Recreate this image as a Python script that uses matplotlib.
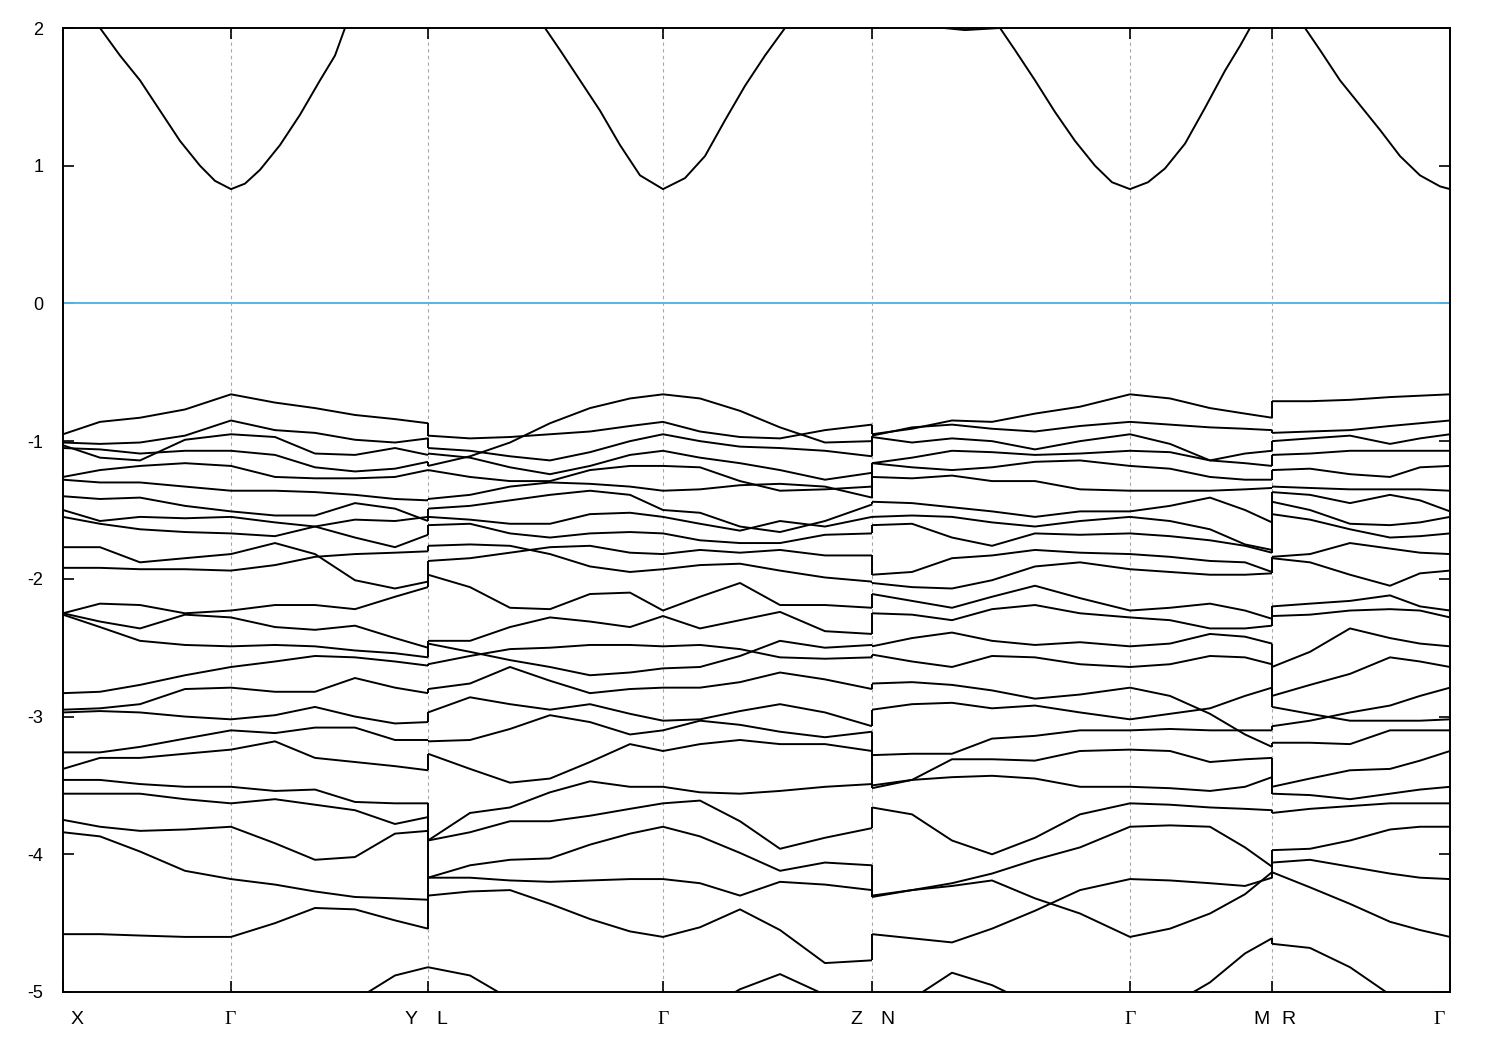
import matplotlib
matplotlib.use("Agg")
import matplotlib.pyplot as plt

plt.rcParams['axes.unicode_minus'] = False
plt.rcParams['font.family'] = ['Liberation Sans', 'DejaVu Sans']

# high-symmetry points along the k-path
kpts = [0.0, 0.168, 0.365, 0.600, 0.809, 1.067, 1.209, 1.387]

# tick labels: (text, k position, horizontal shift in points)
klabels = [('X', 0.0, 10.4), ('Γ', 0.168, -1), ('Y', 0.365, -11.9), ('L', 0.365, 9.9),
           ('Γ', 0.600, 0), ('Z', 0.809, -11.5), ('N', 0.809, 11.2), ('Γ', 1.067, 0),
           ('M', 1.209, -7.9), ('R', 1.209, 11.5), ('Γ', 1.387, -7.9)]

# conduction band
cond_k = [0.0, 0.037, 0.057, 0.077, 0.097, 0.117, 0.137, 0.152, 0.168, 0.182, 0.197, 0.217,
          0.237, 0.257, 0.272, 0.282, 0.317, 0.365,
          0.437, 0.482, 0.497, 0.517, 0.537, 0.557, 0.577, 0.600, 0.622, 0.642, 0.662, 0.682,
          0.702, 0.722, 0.767, 0.809,
          0.867, 0.902, 0.937, 0.952, 0.972, 0.992, 1.012, 1.032, 1.049, 1.067, 1.085, 1.102,
          1.122, 1.142, 1.162, 1.177, 1.187, 1.209,
          1.242, 1.257, 1.277, 1.297, 1.317, 1.337, 1.357, 1.377, 1.387]
cond_e = [2.3, 2.0, 1.80, 1.62, 1.40, 1.18, 1.0, 0.89, 0.83, 0.87, 0.97, 1.15,
          1.37, 1.62, 1.80, 2.0, 2.45, 2.7,
          2.45, 2.0, 1.84, 1.62, 1.40, 1.15, 0.93, 0.83, 0.91, 1.07, 1.33, 1.58,
          1.80, 2.0, 2.4, 2.5,
          2.01, 1.985, 2.0, 1.84, 1.62, 1.39, 1.18, 1.0, 0.88, 0.83, 0.88, 0.98,
          1.16, 1.42, 1.69, 1.87, 2.0, 2.25,
          2.0, 1.84, 1.62, 1.44, 1.26, 1.07, 0.93, 0.85, 0.83]

# valence bands, X - Gamma - Y
p1_k = [0.0, 0.037, 0.077, 0.122, 0.168, 0.212, 0.252, 0.292, 0.332, 0.365]
p1_e = [
    [-0.95, -0.86, -0.83, -0.77, -0.66, -0.72, -0.76, -0.81, -0.84, -0.87],
    [-1.01, -1.02, -1.01, -0.96, -0.85, -0.92, -0.94, -0.99, -1.01, -0.98],
    [-1.03, -1.12, -1.14, -0.99, -0.95, -0.97, -1.09, -1.10, -1.05, -1.10],
    [-1.05, -1.06, -1.09, -1.07, -1.07, -1.10, -1.19, -1.22, -1.20, -1.15],
    [-1.26, -1.21, -1.18, -1.16, -1.18, -1.26, -1.27, -1.27, -1.26, -1.21],
    [-1.28, -1.30, -1.30, -1.33, -1.36, -1.36, -1.37, -1.39, -1.42, -1.43],
    [-1.40, -1.42, -1.41, -1.47, -1.51, -1.54, -1.54, -1.45, -1.49, -1.58],
    [-1.50, -1.58, -1.55, -1.56, -1.55, -1.59, -1.62, -1.70, -1.77, -1.68],
    [-1.55, -1.60, -1.64, -1.66, -1.67, -1.69, -1.62, -1.57, -1.58, -1.55],
    [-1.77, -1.77, -1.88, -1.85, -1.82, -1.74, -1.82, -2.01, -2.07, -2.02],
    [-1.92, -1.92, -1.93, -1.93, -1.94, -1.90, -1.84, -1.82, -1.81, -1.80],
    [-2.25, -2.18, -2.19, -2.25, -2.23, -2.19, -2.19, -2.22, -2.13, -2.06],
    [-2.25, -2.31, -2.36, -2.26, -2.28, -2.35, -2.37, -2.34, -2.43, -2.50],
    [-2.26, -2.35, -2.45, -2.48, -2.49, -2.48, -2.49, -2.52, -2.54, -2.57],
    [-2.83, -2.82, -2.77, -2.70, -2.64, -2.60, -2.56, -2.57, -2.60, -2.63],
    [-2.95, -2.94, -2.91, -2.80, -2.79, -2.82, -2.82, -2.72, -2.79, -2.83],
    [-2.97, -2.96, -2.97, -3.00, -3.02, -2.99, -2.93, -3.00, -3.05, -3.04],
    [-3.26, -3.26, -3.22, -3.16, -3.10, -3.12, -3.08, -3.08, -3.17, -3.17],
    [-3.38, -3.30, -3.30, -3.27, -3.24, -3.18, -3.30, -3.33, -3.36, -3.39],
    [-3.46, -3.46, -3.49, -3.51, -3.51, -3.54, -3.53, -3.62, -3.63, -3.63],
    [-3.56, -3.56, -3.56, -3.60, -3.63, -3.60, -3.64, -3.68, -3.78, -3.73],
    [-3.75, -3.80, -3.83, -3.82, -3.80, -3.92, -4.04, -4.02, -3.85, -3.83],
    [-3.84, -3.87, -3.98, -4.12, -4.18, -4.22, -4.27, -4.31, -4.32, -4.33],
    [-4.58, -4.58, -4.59, -4.60, -4.60, -4.50, -4.39, -4.40, -4.48, -4.54],
    [-5.60, -5.55, -5.50, -5.45, -5.40, -5.30, -5.18, -5.06, -4.88, -4.82],
]

# L - Gamma - Z
p2_k = [0.365, 0.407, 0.447, 0.487, 0.527, 0.567, 0.600, 0.637, 0.677, 0.717, 0.762, 0.809]
p2_e = [
    [-1.18, -1.11, -1.01, -0.87, -0.76, -0.69, -0.66, -0.69, -0.78, -0.90, -1.01, -1.00],
    [-0.96, -0.98, -0.97, -0.95, -0.93, -0.89, -0.86, -0.93, -0.97, -0.98, -0.92, -0.88],
    [-1.05, -1.07, -1.11, -1.14, -1.08, -1.00, -0.95, -1.00, -1.04, -1.05, -1.07, -1.11],
    [-1.09, -1.12, -1.19, -1.24, -1.18, -1.10, -1.07, -1.12, -1.16, -1.21, -1.28, -1.23],
    [-1.21, -1.26, -1.29, -1.29, -1.21, -1.18, -1.18, -1.19, -1.29, -1.36, -1.35, -1.33],
    [-1.42, -1.39, -1.33, -1.30, -1.31, -1.33, -1.36, -1.35, -1.32, -1.31, -1.33, -1.41],
    [-1.49, -1.47, -1.43, -1.39, -1.36, -1.39, -1.50, -1.52, -1.62, -1.66, -1.58, -1.46],
    [-1.55, -1.57, -1.60, -1.60, -1.53, -1.52, -1.55, -1.60, -1.65, -1.58, -1.62, -1.55],
    [-1.61, -1.60, -1.67, -1.70, -1.67, -1.66, -1.67, -1.72, -1.74, -1.74, -1.68, -1.67],
    [-1.76, -1.75, -1.76, -1.82, -1.91, -1.95, -1.93, -1.90, -1.89, -1.94, -1.99, -2.02],
    [-1.87, -1.85, -1.81, -1.77, -1.76, -1.81, -1.82, -1.79, -1.81, -1.79, -1.83, -1.83],
    [-1.97, -2.06, -2.21, -2.22, -2.11, -2.10, -2.23, -2.13, -2.03, -2.19, -2.19, -2.21],
    [-2.45, -2.45, -2.35, -2.28, -2.31, -2.35, -2.27, -2.36, -2.30, -2.24, -2.38, -2.40],
    [-2.47, -2.53, -2.59, -2.64, -2.70, -2.68, -2.65, -2.64, -2.56, -2.45, -2.50, -2.48],
    [-2.62, -2.56, -2.51, -2.50, -2.48, -2.48, -2.49, -2.48, -2.51, -2.57, -2.58, -2.57],
    [-2.80, -2.76, -2.64, -2.74, -2.83, -2.80, -2.79, -2.79, -2.75, -2.68, -2.73, -2.80],
    [-2.97, -2.86, -2.91, -2.95, -2.91, -2.98, -3.03, -3.02, -2.96, -2.91, -2.97, -3.07],
    [-3.18, -3.17, -3.09, -2.99, -3.04, -3.13, -3.10, -3.03, -3.06, -3.11, -3.15, -3.11],
    [-3.27, -3.38, -3.48, -3.45, -3.33, -3.20, -3.25, -3.20, -3.17, -3.20, -3.20, -3.25],
    [-3.90, -3.70, -3.66, -3.55, -3.47, -3.51, -3.51, -3.55, -3.56, -3.54, -3.51, -3.49],
    [-3.90, -3.84, -3.76, -3.76, -3.72, -3.67, -3.63, -3.61, -3.76, -3.96, -3.88, -3.81],
    [-4.17, -4.08, -4.04, -4.03, -3.93, -3.85, -3.80, -3.87, -3.99, -4.12, -4.06, -4.08],
    [-4.17, -4.17, -4.19, -4.20, -4.19, -4.18, -4.18, -4.21, -4.30, -4.20, -4.22, -4.26],
    [-4.30, -4.27, -4.26, -4.36, -4.47, -4.56, -4.60, -4.53, -4.40, -4.55, -4.79, -4.77],
    [-4.82, -4.88, -5.05, -5.20, -5.30, -5.30, -5.25, -5.15, -4.98, -4.87, -5.02, -5.30],
]

# N - Gamma - M
p3_k = [0.809, 0.849, 0.889, 0.929, 0.972, 1.017, 1.067, 1.107, 1.147, 1.182, 1.209]
p3_e = [
    [-0.95, -0.91, -0.85, -0.86, -0.80, -0.75, -0.66, -0.69, -0.76, -0.80, -0.83],
    [-0.96, -0.90, -0.88, -0.91, -0.93, -0.89, -0.86, -0.88, -0.90, -0.91, -0.92],
    [-0.97, -1.01, -0.98, -1.00, -1.06, -1.00, -0.95, -1.02, -1.14, -1.09, -1.07],
    [-1.16, -1.12, -1.07, -1.08, -1.10, -1.09, -1.07, -1.08, -1.14, -1.16, -1.18],
    [-1.16, -1.19, -1.21, -1.19, -1.15, -1.14, -1.18, -1.20, -1.26, -1.28, -1.28],
    [-1.26, -1.27, -1.25, -1.29, -1.29, -1.35, -1.36, -1.36, -1.36, -1.35, -1.34],
    [-1.44, -1.45, -1.48, -1.51, -1.55, -1.51, -1.51, -1.47, -1.41, -1.50, -1.59],
    [-1.55, -1.54, -1.55, -1.59, -1.62, -1.58, -1.55, -1.58, -1.64, -1.75, -1.79],
    [-1.61, -1.60, -1.70, -1.76, -1.67, -1.68, -1.67, -1.69, -1.72, -1.76, -1.81],
    [-1.97, -1.95, -1.85, -1.83, -1.79, -1.81, -1.82, -1.84, -1.87, -1.88, -1.95],
    [-2.03, -2.06, -2.07, -2.01, -1.91, -1.88, -1.93, -1.95, -1.97, -1.97, -1.96],
    [-2.11, -2.16, -2.21, -2.13, -2.05, -2.14, -2.23, -2.21, -2.18, -2.23, -2.29],
    [-2.25, -2.26, -2.30, -2.22, -2.19, -2.25, -2.28, -2.30, -2.36, -2.36, -2.34],
    [-2.49, -2.43, -2.39, -2.45, -2.48, -2.46, -2.49, -2.47, -2.40, -2.42, -2.47],
    [-2.55, -2.60, -2.64, -2.56, -2.57, -2.62, -2.64, -2.62, -2.56, -2.57, -2.62],
    [-2.76, -2.75, -2.77, -2.81, -2.87, -2.84, -2.79, -2.85, -2.98, -3.13, -3.22],
    [-2.95, -2.91, -2.90, -2.94, -2.92, -2.97, -3.02, -2.98, -2.94, -2.85, -2.79],
    [-3.28, -3.27, -3.27, -3.16, -3.14, -3.10, -3.10, -3.09, -3.10, -3.10, -3.10],
    [-3.52, -3.46, -3.31, -3.31, -3.32, -3.25, -3.24, -3.25, -3.33, -3.31, -3.30],
    [-3.50, -3.46, -3.44, -3.43, -3.45, -3.51, -3.51, -3.52, -3.54, -3.51, -3.44],
    [-3.66, -3.71, -3.90, -4.00, -3.88, -3.71, -3.63, -3.64, -3.66, -3.67, -3.68],
    [-4.31, -4.26, -4.21, -4.14, -4.04, -3.95, -3.80, -3.79, -3.80, -3.95, -4.09],
    [-4.30, -4.26, -4.23, -4.19, -4.32, -4.43, -4.60, -4.54, -4.43, -4.29, -4.13],
    [-4.58, -4.61, -4.64, -4.54, -4.41, -4.26, -4.18, -4.19, -4.21, -4.23, -4.17],
    [-5.30, -5.05, -4.86, -4.95, -5.10, -5.20, -5.30, -5.10, -4.93, -4.72, -4.61],
]

# R - Gamma
p4_k = [1.209, 1.247, 1.287, 1.327, 1.357, 1.387]
p4_e = [
    [-0.71, -0.71, -0.70, -0.68, -0.67, -0.66],
    [-0.94, -0.93, -0.92, -0.89, -0.87, -0.85],
    [-1.00, -0.98, -0.96, -1.02, -0.98, -0.95],
    [-1.10, -1.09, -1.07, -1.07, -1.07, -1.07],
    [-1.21, -1.20, -1.24, -1.26, -1.19, -1.18],
    [-1.33, -1.34, -1.35, -1.35, -1.35, -1.36],
    [-1.37, -1.39, -1.45, -1.39, -1.43, -1.51],
    [-1.44, -1.50, -1.60, -1.61, -1.59, -1.55],
    [-1.53, -1.57, -1.64, -1.70, -1.69, -1.67],
    [-1.84, -1.82, -1.74, -1.78, -1.81, -1.82],
    [-1.85, -1.88, -1.97, -2.05, -1.96, -1.94],
    [-2.20, -2.18, -2.16, -2.12, -2.20, -2.23],
    [-2.27, -2.26, -2.23, -2.22, -2.23, -2.28],
    [-2.64, -2.53, -2.36, -2.43, -2.47, -2.49],
    [-2.85, -2.77, -2.69, -2.57, -2.60, -2.64],
    [-3.07, -3.03, -2.97, -2.92, -2.85, -2.79],
    [-2.93, -2.98, -3.03, -3.03, -3.03, -3.02],
    [-3.19, -3.19, -3.20, -3.10, -3.10, -3.10],
    [-3.51, -3.45, -3.39, -3.38, -3.32, -3.25],
    [-3.56, -3.57, -3.60, -3.56, -3.53, -3.51],
    [-3.70, -3.67, -3.65, -3.63, -3.63, -3.63],
    [-3.97, -3.96, -3.90, -3.82, -3.80, -3.80],
    [-4.06, -4.04, -4.09, -4.14, -4.17, -4.18],
    [-4.13, -4.24, -4.36, -4.49, -4.55, -4.60],
    [-4.65, -4.68, -4.82, -5.02, -5.20, -5.30],
]

fig = plt.figure(figsize=(15, 10.5), dpi=100)
ax = fig.add_axes([63 / 1500, 58 / 1050, 1387 / 1500, 964 / 1050])

line_kw = dict(color='black', lw=1.4, solid_joinstyle='round', solid_capstyle='butt')

panels = [(p1_k, p1_e), (p2_k, p2_e), (p3_k, p3_e), (p4_k, p4_e)]
for k, rows in panels:
    for e in rows:
        ax.plot(k, e, **line_kw)

# the path jumps at Y|L, Z|N and M|R: join sorted band ends vertically
for (ka, ra), (kb, rb) in zip(panels[:-1], panels[1:]):
    ends = sorted(r[-1] for r in ra)
    starts = sorted(r[0] for r in rb)
    for a, b in zip(ends, starts):
        ax.plot([ka[-1], kb[0]], [a, b], **line_kw)

ax.plot(cond_k, cond_e, **line_kw)

# Fermi level
ax.axhline(0, color='#56b4e9', lw=1.4)

for k in kpts[1:-1]:
    ax.axvline(k, color='#a8a8a8', lw=0.8, ls=(0, (3, 3)), zorder=0)

ax.set_xlim(kpts[0], kpts[-1])
ax.set_ylim(-5, 2)
ax.set_yticks(range(-5, 3))
ax.set_yticklabels([str(v) for v in range(-5, 3)], fontsize=13)
ax.set_xticks(kpts)
ax.set_xticklabels([])
ax.tick_params(direction='in', length=8, width=1.2, top=True, right=True)
ax.tick_params(axis='y', pad=14)
for s in ax.spines.values():
    s.set_linewidth(1.4)

for text, k, dx in klabels:
    fam = ['Liberation Serif'] if text == 'Γ' else ['Liberation Sans']
    ax.annotate(text, xy=(k, 0), xycoords=('data', 'axes fraction'),
                xytext=(dx, -20), textcoords='offset points',
                ha='center', va='center', fontsize=14, family=fam)

fig.savefig('out.png', dpi=100)
